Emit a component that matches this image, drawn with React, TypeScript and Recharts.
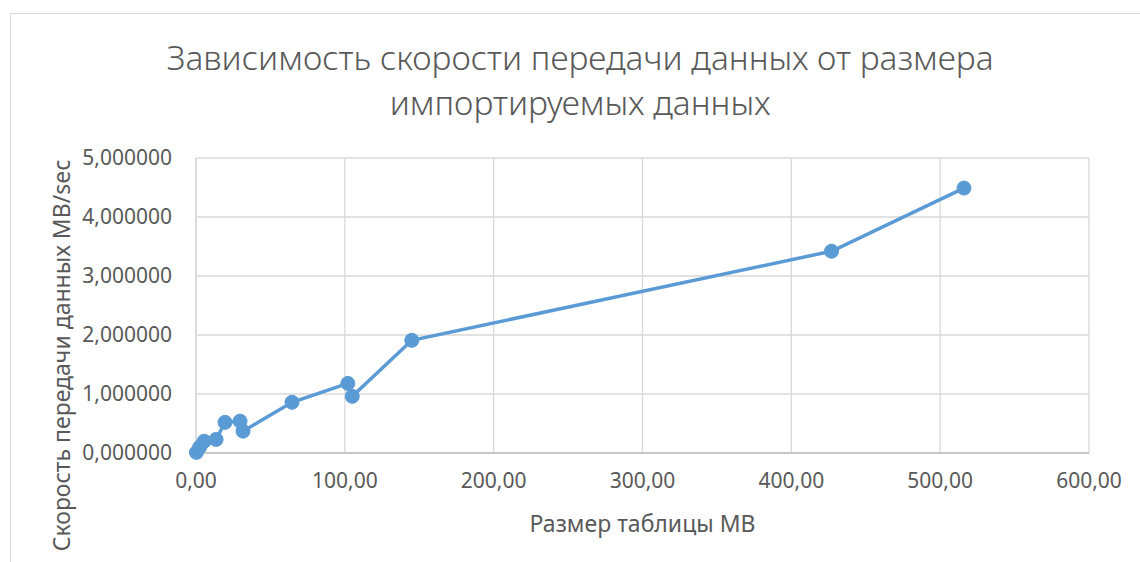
import { LineChart, Line, XAxis, YAxis, CartesianGrid, Label } from "recharts";

// Размер таблицы (MB) и скорость передачи (MB/sec), по точкам с графика
const sizesMb = [0.3, 2.5, 5.5, 13.5, 19.5, 29.6, 31.6, 64.5, 102, 105, 145, 427, 516];
const speeds = [0.01, 0.1, 0.2, 0.23, 0.52, 0.54, 0.37, 0.86, 1.18, 0.96, 1.91, 3.42, 4.49];

const xTicks = [0, 100, 200, 300, 400, 500, 600];
const yTicks = [0, 1, 2, 3, 4, 5];

const titleLines = ["Зависимость скорости передачи данных от размера", "импортируемых данных"];
const xTitle = "Размер таблицы MB";
const yTitle = "Скорость передачи данных MB/sec";

const data = sizesMb.map((size, i) => ({ size, speed: speeds[i] }));

const FONT = "'Noto Sans', sans-serif";
const TEXT = "#595959";
const BLUE = "#5B9BD5";

const fmt = (v: number, digits: number) => v.toFixed(digits).replace(".", ",");

export default function App() {
  return (
    <div
      style={{
        position: "relative",
        width: 1140,
        height: 562,
        overflow: "hidden",
        background: "#fff",
        fontFamily: FONT,
      }}
    >
      <style>{`body{margin:0}`}</style>
      {/* рамка области диаграммы */}
      <div
        style={{
          position: "absolute",
          left: 10,
          top: 13,
          width: 1200,
          height: 700,
          border: "1px solid #d9d9d9",
        }}
      />
      <div
        style={{
          position: "absolute",
          left: 10,
          width: 1140,
          top: 35,
          textAlign: "center",
          color: TEXT,
          fontSize: 33.5,
          fontWeight: 300,
          lineHeight: "45px",
        }}
      >
        {titleLines.map((t) => (
          <div key={t}>{t}</div>
        ))}
      </div>

      <div style={{ position: "absolute", left: 0, top: 0 }}>
        <LineChart
          width={1140}
          height={562}
          data={data}
          margin={{ top: 158, right: 51, bottom: 79, left: 86 }}
        >
          <CartesianGrid stroke="#d9d9d9" strokeWidth={1.3} />
          <XAxis
            type="number"
            dataKey="size"
            domain={[0, 600]}
            ticks={xTicks}
            tickFormatter={(v) => fmt(v, 2)}
            tickLine={false}
            tickSize={0}
            tickMargin={20}
            height={30}
            axisLine={{ stroke: "#bfbfbf", strokeWidth: 1.3 }}
            tick={{ fill: TEXT, fontSize: 21, fontFamily: FONT }}
            interval={0}
          >
            <Label
              content={({ viewBox }: any) => (
                <text
                  x={viewBox.x + viewBox.width / 2}
                  y={viewBox.y + 79}
                  textAnchor="middle"
                  fill={TEXT}
                  fontSize={23}
                  fontFamily={FONT}
                >
                  {xTitle}
                </text>
              )}
            />
          </XAxis>
          <YAxis
            type="number"
            dataKey="speed"
            domain={[0, 5]}
            ticks={yTicks}
            tickFormatter={(v) => fmt(v, 6)}
            tickLine={false}
            tickSize={0}
            tickMargin={24}
            width={110}
            axisLine={{ stroke: "#d9d9d9", strokeWidth: 1.3 }}
            tick={{ fill: TEXT, fontSize: 21, fontFamily: FONT }}
            interval={0}
          >
            <Label
              content={({ viewBox }: any) => (
                <text
                  transform={`translate(${viewBox.x - 25}, ${viewBox.y + viewBox.height / 2 + 50}) rotate(-90)`}
                  textAnchor="middle"
                  dominantBaseline="central"
                  fill={TEXT}
                  fontSize={23}
                  fontFamily={FONT}
                >
                  {yTitle}
                </text>
              )}
            />
          </YAxis>
          <Line
            type="linear"
            dataKey="speed"
            stroke={BLUE}
            strokeWidth={3.5}
            dot={{ r: 7, fill: BLUE, stroke: BLUE, strokeWidth: 1 }}
            activeDot={false}
            isAnimationActive={false}
          />
        </LineChart>
      </div>
    </div>
  );
}
